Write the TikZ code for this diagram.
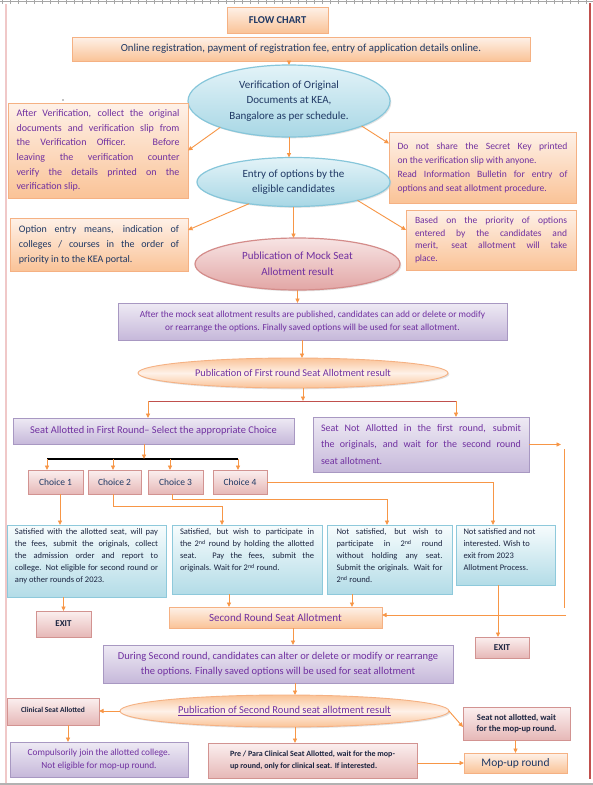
\documentclass[tikz,border=0pt]{standalone}
\usepackage{fontspec}
\setmainfont{Carlito}
\usetikzlibrary{shapes.geometric,arrows.meta,shadows}
\definecolor{navy}{HTML}{1F3864}
\definecolor{vio}{HTML}{7030A0}
\definecolor{arr}{HTML}{F79646}
\definecolor{redl}{HTML}{C0504D}
\definecolor{pinkl}{HTML}{F0C8C8}
\definecolor{obord}{HTML}{F5B183}
\definecolor{otop}{HTML}{FEF1E8}
\definecolor{obot}{HTML}{FAC397}
\definecolor{btop}{HTML}{E3F3F8}
\definecolor{bbot}{HTML}{A8D7E5}
\definecolor{bbord}{HTML}{86C6DA}
\definecolor{ptop}{HTML}{F7E4E4}
\definecolor{pbot}{HTML}{E2A6A5}
\definecolor{pbord}{HTML}{D48C8A}
\definecolor{vtop}{HTML}{EEEAF4}
\definecolor{vbot}{HTML}{C6B8DA}
\definecolor{vbord}{HTML}{A898C2}
\definecolor{rtop}{HTML}{FBEFEF}
\definecolor{rbot}{HTML}{E6B8B7}
\definecolor{rbord}{HTML}{D29391}
\definecolor{ctop}{HTML}{F7FCFD}
\definecolor{cbot}{HTML}{B3DCE7}
\definecolor{cbord}{HTML}{8EC9DB}
\definecolor{dtext}{HTML}{1B2440}
\tikzset{
  nbase/.style={inner sep=0pt, outer sep=0pt, line width=0.9pt, drop shadow={shadow xshift=1.3pt,shadow yshift=-1.3pt,fill=black!22}},
  obox/.style={nbase, rectangle, draw=obord, top color=otop, bottom color=obot},
  vbox/.style={nbase, rectangle, draw=vbord, top color=vtop, bottom color=vbot},
  rbox/.style={nbase, rectangle, draw=rbord, top color=rtop, bottom color=rbot},
  cbox/.style={nbase, rectangle, draw=cbord, top color=ctop, bottom color=cbot},
  bell/.style={nbase, ellipse, draw=bbord, line width=1.2pt, top color=btop, bottom color=bbot},
  pell/.style={nbase, ellipse, draw=pbord, line width=1.2pt, top color=ptop, bottom color=pbot},
  oell/.style={nbase, ellipse, draw=obord, top color=obot, bottom color=obot, middle color=otop},
  arrow/.style={draw=arr, line width=0.9pt, -{Triangle[length=4.5pt,width=4.2pt]}},
  conn/.style={draw=arr, line width=0.9pt},
}
\begin{document}
\begin{tikzpicture}[x=1pt,y=-1pt]
\useasboundingbox (0,0) rectangle (593,785);
\fill[white] (0,0) rectangle (593,785);
% page frame
\draw[gray!70, line width=0.8pt] (0,1) -- (593,1);
\foreach \t in {2,10,...,594} \draw[gray!70, line width=0.5pt] (\t,0) -- (\t,3.5);
\draw[pinkl, line width=1.2pt] (6,4) -- (6,785);
\draw[redl, line width=1.3pt] (590,3) -- (590,779);
\draw[gray!60, line width=2pt] (0,784) -- (593,784);
\fill[black] (63,100) circle (0.7pt);

% nodes
\node[obox, minimum width=101pt, minimum height=26pt, text=navy, font=\fontsize{10.5}{12}\selectfont\bfseries] (flow) at (277.5,20) {FLOW CHART};
\node[obox, minimum width=458pt, minimum height=24pt, text=navy, font=\fontsize{10.8}{12}\selectfont] (online) at (301,49) {Online registration, payment of registration fee, entry of application details online.};
\node[bell, minimum width=202pt, minimum height=72pt, text=navy, align=center, font=\fontsize{11}{15.5}\selectfont] (v1) at (289,101) {Verification of Original\\Documents at KEA,\\Bangalore as per schedule.};
\node[obox, minimum width=180pt, minimum height=95pt, text=vio, text width=163pt, align=justify, font=\fontsize{10}{14.7}\selectfont] (la) at (98,150.5) {After Verification, collect the original\linebreak documents and verification slip from\linebreak the Verification Officer. Before\linebreak leaving the verification counter\linebreak verify the details printed on the\linebreak verification slip.};
\node[obox, minimum width=187pt, minimum height=71pt, text=vio, text width=170pt, align=justify, font=\fontsize{9.6}{14}\selectfont] (ra) at (482.5,167.5) {Do not share the Secret Key printed\linebreak on the verification slip with anyone.\newline Read Information Bulletin for entry of\linebreak options and seat allotment procedure.};
\node[bell, minimum width=193pt, minimum height=49pt, text=navy, align=center, font=\fontsize{11}{15}\selectfont] (v2) at (293.5,182) {Entry of options by the\\eligible candidates};
\node[obox, minimum width=178pt, minimum height=53pt, text=navy, text width=160pt, align=justify, font=\fontsize{10}{15}\selectfont] (lb) at (99,244.5) {Option entry means, indication of\linebreak colleges / courses in the order of\linebreak priority in to the KEA portal.};
\node[obox, minimum width=170pt, minimum height=60pt, text=vio, text width=152pt, align=justify, font=\fontsize{9.5}{12.8}\selectfont] (rb) at (491,240) {Based on the priority of options\linebreak entered by the candidates and\linebreak merit, seat allotment will take\linebreak place.};
\node[pell, minimum width=205pt, minimum height=52pt, text=vio, align=center, font=\fontsize{11}{16}\selectfont] (mock) at (297.5,264) {Publication of Mock Seat\\Allotment result};
\node[vbox, minimum width=389pt, minimum height=37pt, text=vio, align=center, font=\fontsize{9.3}{12.7}\selectfont] (p1) at (312.5,321.5) {After the mock seat allotment results are published, candidates can add or delete or modify\\or rearrange the options. Finally saved options will be used for seat allotment.};
\node[oell, minimum width=310pt, minimum height=30pt, text=vio, font=\fontsize{10.3}{12}\selectfont] (first) at (293,373) {Publication of First round Seat Allotment result};
\node[vbox, minimum width=281pt, minimum height=26pt, text=vio, font=\fontsize{10.4}{12}\selectfont] (sa) at (153.5,431) {Seat Allotted in First Round– Select the appropriate Choice};
\node[vbox, minimum width=216pt, minimum height=55pt, text=vio, text width=200pt, align=justify, font=\fontsize{10}{16.5}\selectfont] (na) at (421,444.5) {Seat Not Allotted in the first round, submit\linebreak the originals, and wait for the second round\linebreak seat allotment.};
\node[rbox, minimum width=55pt, minimum height=24pt, text=navy, font=\fontsize{9.5}{11}\selectfont] (c1) at (55.5,482) {Choice 1};
\node[rbox, minimum width=53pt, minimum height=24pt, text=navy, font=\fontsize{9.5}{11}\selectfont] (c2) at (114.5,482) {Choice 2};
\node[rbox, minimum width=55pt, minimum height=24pt, text=navy, font=\fontsize{9.5}{11}\selectfont] (c3) at (175.5,482) {Choice 3};
\node[rbox, minimum width=54pt, minimum height=24pt, text=navy, font=\fontsize{9.5}{11}\selectfont] (c4) at (240,482) {Choice 4};
\node[cbox, minimum width=159pt, minimum height=72pt, text=dtext, font=\fontsize{8.5}{12}\selectfont] (b1) at (86.5,561) {\parbox[c][64pt][t]{143pt}{Satisfied with the allotted seat, will pay\linebreak the fees, submit the originals, collect\linebreak the admission order and report to\linebreak college. Not eligible for second round or\linebreak any other rounds of 2023.}};
\node[cbox, minimum width=150pt, minimum height=69pt, text=dtext, font=\fontsize{8.5}{12}\selectfont] (b2) at (247,559.5) {\parbox[c][61pt][t]{134pt}{Satisfied, but wish to participate in\linebreak the 2\textsuperscript{nd} round by holding the allotted\linebreak seat. Pay the fees, submit the\linebreak originals. Wait for 2\textsuperscript{nd} round.}};
\node[cbox, minimum width=125pt, minimum height=69pt, text=dtext, font=\fontsize{8.5}{12}\selectfont] (b3) at (389.5,559.5) {\parbox[c][61pt][t]{106pt}{Not satisfied, but wish to\linebreak participate in 2\textsuperscript{nd} round\linebreak without holding any seat.\linebreak Submit the originals. Wait for\linebreak 2\textsuperscript{nd} round.}};
\node[cbox, minimum width=99pt, minimum height=60pt, text=dtext, font=\fontsize{8.5}{12}\selectfont] (b4) at (505.5,555) {\parbox[c][52pt][t]{84pt}{\raggedright Not satisfied and not\newline interested. Wish to\newline exit from 2023\newline Allotment Process.}};
\node[rbox, minimum width=55pt, minimum height=26pt, text=dtext, font=\fontsize{9}{10}\selectfont\bfseries] (x1) at (63.5,624) {EXIT};
\node[rbox, minimum width=54pt, minimum height=21pt, text=dtext, font=\fontsize{9}{10}\selectfont\bfseries] (x2) at (502,647.5) {EXIT};
\node[obox, minimum width=213pt, minimum height=21pt, text=vio, font=\fontsize{11}{12}\selectfont] (sec) at (275.5,617.5) {Second Round Seat Allotment};
\node[vbox, minimum width=350pt, minimum height=38pt, text=vio, align=center, font=\fontsize{10.5}{15}\selectfont] (dur) at (278,664) {During Second round, candidates can alter or delete or modify or rearrange\\the options. Finally saved options will be used for seat allotment};
\node[oell, minimum width=329pt, minimum height=32pt, text=vio, font=\fontsize{10.5}{12}\selectfont] (e2) at (284.5,711) {\underline{Publication of Second Round seat allotment result}};
\node[rbox, minimum width=92pt, minimum height=27pt, text=dtext, font=\fontsize{7.5}{9}\selectfont\bfseries] (clin) at (53,711.5) {\raisebox{3pt}{Clinical Seat Allotted}};
\node[vbox, minimum width=178pt, minimum height=35pt, text=vio, align=center, font=\fontsize{9.3}{13}\selectfont] (comp) at (99,759.5) {Compulsorily join the allotted college.\\Not eligible for mop-up round.};
\node[rbox, minimum width=209pt, minimum height=35pt, text=dtext, align=left, font=\fontsize{8}{12}\selectfont\bfseries] (pre) at (312.5,760.5) {Pre / Para Clinical Seat Allotted, wait for the mop-\\up round, only for clinical seat. If interested.};
\node[rbox, minimum width=107pt, minimum height=33pt, text=dtext, align=center, font=\fontsize{8.6}{11}\selectfont\bfseries] (sna) at (516.5,723.5) {Seat not allotted, wait\\for the mop-up round.};
\node[obox, minimum width=103pt, minimum height=20pt, text=navy, font=\fontsize{11.5}{12}\selectfont] (mop) at (515.5,763) {Mop-up round};

% connectors
\draw[arrow] (online.south -| v1.north) -- (v1.north);
\draw[arrow] (v1.201) -- (la.east);
\draw[arrow] (v1.341) -- ([yshift=24pt]ra.west);
\draw[arrow] (v1.south) -- (v1.south |- v2.north);
\draw[arrow] (v2.206) -- ([yshift=14.5pt]lb.east);
\draw[arrow] (v2.344) -- ([yshift=10pt]rb.west);
\draw[arrow] (v2.south) -- (v2.south |- mock.north);
\draw[arrow] (mock.south) -- (mock.south |- p1.north);
\coordinate (ax) at (302,0);
\draw[arrow] (p1.south -| ax) -- (first.north -| ax);
\coordinate (sp) at (303,401);
\coordinate (rl) at (148,401);
\coordinate (rr) at (456,401);
\draw[arrow] (first.south -| sp) -- (sp);
\draw[redl, line width=1pt] (rl) -- (rr);
\draw[arrow] (rl) -- (rl |- sa.north);
\draw[arrow] (rr) -- (rr |- na.north);
\coordinate (n1) at (561,444.5);
\coordinate (n2) at (564,449);
\coordinate (n3) at (564,608);
\coordinate (n4) at (566,615);
\draw[arrow] (na.east) -- (n1);
\draw[conn] (n2) -- (n3);
\draw[arrow] (n4) -- (n4 -| sec.east);
\coordinate (bl) at (47,459);
\coordinate (br) at (238,459);
\coordinate (bm) at (144,459);
\coordinate (bx2) at (113,459);
\coordinate (bx3) at (170,459);
\draw[black, line width=1.3pt] (bl) -- (br);
\draw[arrow] (bm |- sa.south) -- (bm);
\draw[arrow] (bl) -- (bl |- c1.north);
\draw[arrow] (bx2) -- (bx2 |- c2.north);
\draw[arrow] (bx3) -- (bx3 |- c3.north);
\draw[arrow] (br) -- (br |- c4.north);
\coordinate (k1) at (60,0);
\draw[arrow] (c1.south -| k1) -- (b1.north -| k1);
\coordinate (j2) at (222,506);
\coordinate (k2) at (113,0);
\draw[arrow] (c2.south -| k2) |- (j2) -- (j2 |- b2.north);
\coordinate (j3) at (387,499);
\coordinate (k3) at (172,0);
\draw[arrow] (c3.south -| k3) |- (j3) -- (j3 |- b3.north);
\coordinate (j4) at (493,482);
\draw[arrow] (c4.east) -- (j4) -- (j4 |- b4.north);
\draw[arrow] (b1.south -| x1.north) -- (x1.north);
\coordinate (q2) at (229,0);
\coordinate (q3) at (352,0);
\coordinate (q4) at (498,0);
\coordinate (q5) at (293,0);
\coordinate (q6) at (295,0);
\draw[arrow] (b2.south -| q2) -- (sec.north -| q2);
\draw[arrow] (b3.south -| q3) -- (sec.north -| q3);
\draw[arrow] (b4.south -| q4) -- (x2.north -| q4);
\draw[arrow] (sec.south -| q5) -- (dur.north -| q5);
\draw[arrow] (dur.south -| q6) -- (e2.north -| q6);
\draw[arrow] (e2.west) -- (clin.east |- e2.west);
\coordinate (q7) at (68,0);
\draw[arrow] (clin.south -| q7) -- (comp.north -| q7);
\draw[arrow] (e2.south -| q6) -- (pre.north -| q6);
\draw[arrow] (e2.east) -- ([yshift=-3.5pt]sna.west);
\draw[arrow] (sna.south -| mop.north) -- (mop.north);
\draw[arrow] (pre.east |- mop.west) -- (mop.west);
\end{tikzpicture}
\end{document}
